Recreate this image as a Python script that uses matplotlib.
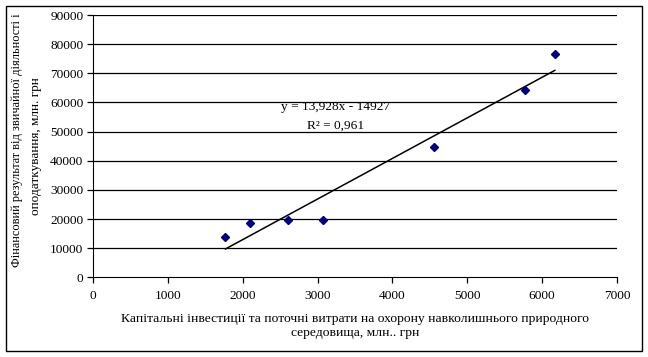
import matplotlib
matplotlib.use('Agg')
from matplotlib import pyplot as plt
from matplotlib.patches import Rectangle
import numpy as np

matplotlib.rc('font', family='Liberation Serif', size=9.6)

# витрати на охорону навколишнього середовища, млн. грн
costs = [1769, 2103, 2607, 3070, 4555, 5769, 6170]
# фінансовий результат, млн. грн
result = [13900, 18700, 19600, 19600, 44600, 64200, 76500]

trend_slope = 13.928
trend_intercept = -14927
trend_label = 'y = 13,928x - 14927'
r2_label = 'R² = 0,961'

x_ticks = [0, 1000, 2000, 3000, 4000, 5000, 6000, 7000]
y_ticks = [0, 10000, 20000, 30000, 40000, 50000, 60000, 70000, 80000, 90000]

fig = plt.figure(figsize=(6.48, 3.57), dpi=100)
ax = fig.add_axes([93 / 648, 1 - 277.3 / 357, 524 / 648, 262.3 / 357])

for yt in y_ticks[1:]:
    ax.axhline(yt, color='black', lw=0.9, zorder=1)

tx = np.array([min(costs), max(costs)])
ax.plot(tx, trend_slope * tx + trend_intercept, color='black', lw=1.1, zorder=2)
ax.plot(costs, result, linestyle='none', marker='D', markersize=4,
        color='#000080', zorder=3)

ax.text(3240, 58400, trend_label, ha='center', va='center')
ax.text(3240, 51900, r2_label, ha='center', va='center')

ax.set_xlim(0, 7000)
ax.set_ylim(0, 90000)
ax.set_xticks(x_ticks)
ax.set_yticks(y_ticks)
ax.spines['top'].set_visible(False)
ax.spines['right'].set_visible(False)
ax.tick_params(axis='both', direction='out', length=4, width=0.9)
ax.tick_params(axis='x', pad=5)
ax.tick_params(axis='y', pad=3)

ax.set_xlabel('Капітальні інвестиції та поточні витрати на охорону навколишнього природного\n'
              'середовища, млн.. грн', fontsize=9.7, linespacing=1.25, labelpad=8)

fig.text(17 / 648, 1 - 140 / 357, 'Фінансовий результат від звичайної діяльності і',
         rotation=90, ha='center', va='center', fontsize=8.9)
fig.text(36 / 648, 1 - 146 / 357, 'оподаткування, млн. грн',
         rotation=90, ha='center', va='center', fontsize=9.5)

fig.patches.append(Rectangle((5.5 / 648, 6.5 / 357), 636.5 / 648, 345 / 357,
                             transform=fig.transFigure, fill=False,
                             edgecolor='black', lw=1))

plt.savefig('out.png', dpi=100)
plt.close()
